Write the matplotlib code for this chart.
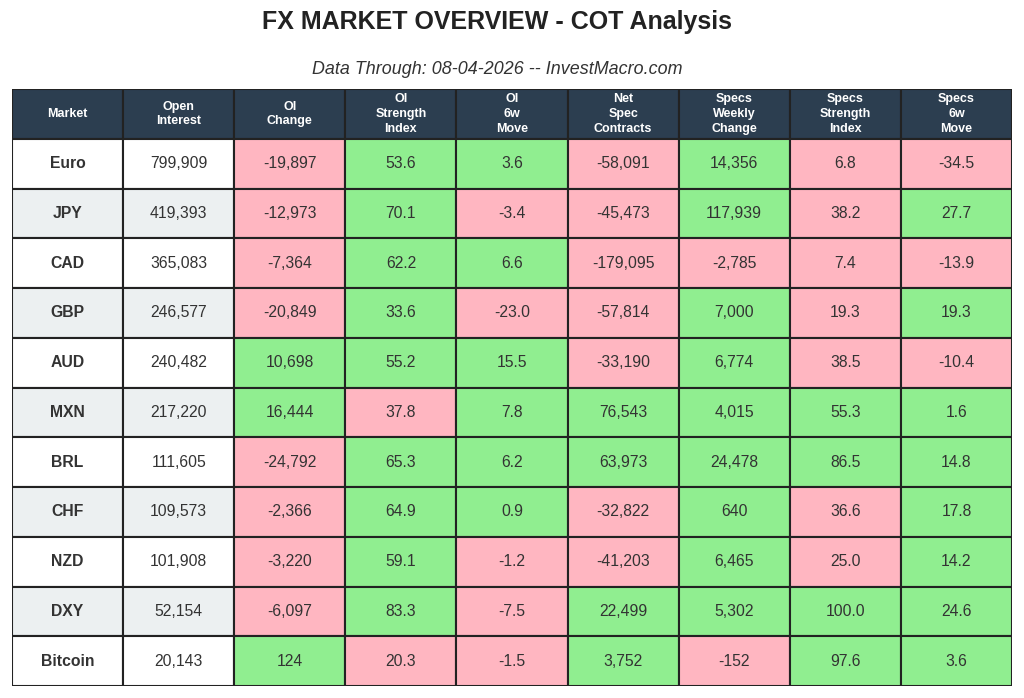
import matplotlib
matplotlib.use("Agg")
import matplotlib.pyplot as plt
from matplotlib.patches import Rectangle

plt.rcParams['font.family'] = ['Liberation Sans', 'DejaVu Sans']

title = "FX MARKET OVERVIEW - COT Analysis"
subtitle = "Data Through: 08-04-2026 -- InvestMacro.com"

headers = ["Market", "Open\nInterest", "OI\nChange", "OI\nStrength\nIndex", "OI\n6w\nMove",
           "Net\nSpec\nContracts", "Specs\nWeekly\nChange", "Specs\nStrength\nIndex", "Specs\n6w\nMove"]

markets = ["Euro", "JPY", "CAD", "GBP", "AUD", "MXN", "BRL", "CHF", "NZD", "DXY", "Bitcoin"]
open_interest = [799909, 419393, 365083, 246577, 240482, 217220, 111605, 109573, 101908, 52154, 20143]
oi_change = [-19897, -12973, -7364, -20849, 10698, 16444, -24792, -2366, -3220, -6097, 124]
oi_strength = [53.6, 70.1, 62.2, 33.6, 55.2, 37.8, 65.3, 64.9, 59.1, 83.3, 20.3]
oi_6w = [3.6, -3.4, 6.6, -23.0, 15.5, 7.8, 6.2, 0.9, -1.2, -7.5, -1.5]
net_spec = [-58091, -45473, -179095, -57814, -33190, 76543, 63973, -32822, -41203, 22499, 3752]
spec_weekly = [14356, 117939, -2785, 7000, 6774, 4015, 24478, 640, 6465, 5302, -152]
spec_strength = [6.8, 38.2, 7.4, 19.3, 38.5, 55.3, 86.5, 36.6, 25.0, 100.0, 97.6]
spec_6w = [-34.5, 27.7, -13.9, 19.3, -10.4, 1.6, 14.8, 17.8, 14.2, 24.6, 3.6]

# cell status for the strength columns as shown (g = green, p = pink)
oi_strength_status = ["g", "g", "g", "g", "g", "p", "g", "g", "g", "g", "p"]
spec_strength_status = ["p", "p", "p", "p", "p", "g", "g", "p", "p", "g", "g"]

GREEN = "#90ee90"
PINK = "#ffb6c1"
HEADER = "#2c3e50"
ALT = "#ecf0f1"
WHITE = "#ffffff"
TEXT = "#333333"
EDGE = "#222222"

def sign_status(vals):
    return ["g" if v >= 0 else "p" for v in vals]

columns = [
    ([f"{v}" for v in markets], None),
    ([f"{v:,}" for v in open_interest], None),
    ([f"{v:,}" for v in oi_change], sign_status(oi_change)),
    ([f"{v:.1f}" for v in oi_strength], oi_strength_status),
    ([f"{v:.1f}" for v in oi_6w], sign_status(oi_6w)),
    ([f"{v:,}" for v in net_spec], sign_status(net_spec)),
    ([f"{v:,}" for v in spec_weekly], sign_status(spec_weekly)),
    ([f"{v:.1f}" for v in spec_strength], spec_strength_status),
    ([f"{v:.1f}" for v in spec_6w], sign_status(spec_6w)),
]

W, H = 1024, 698
fig = plt.figure(figsize=(W / 100, H / 100), dpi=100)
fig.patch.set_facecolor("white")

left, right, top, bottom = 12, 1012, 89, 686
ax = fig.add_axes([left / W, 1 - bottom / H, (right - left) / W, (bottom - top) / H])
ncol = len(headers)
nrow = len(markets) + 1
ax.set_xlim(0, ncol)
ax.set_ylim(nrow, 0)
ax.axis("off")

lw = 1.5
# header
for j, h in enumerate(headers):
    ax.add_patch(Rectangle((j, 0), 1, 1, facecolor=HEADER, edgecolor=EDGE, lw=lw))
    ax.text(j + 0.5, 0.5, h, ha="center", va="center", color="white", fontsize=9,
            fontweight="bold", linespacing=1.3)

for i in range(len(markets)):
    base = WHITE if i % 2 == 0 else ALT
    for j, (texts, status) in enumerate(columns):
        fc = base
        if status is not None:
            fc = GREEN if status[i] == "g" else PINK
        ax.add_patch(Rectangle((j, i + 1), 1, 1, facecolor=fc, edgecolor=EDGE, lw=lw))
        ax.text(j + 0.5, i + 1.5, texts[i], ha="center", va="center", color=TEXT,
                fontsize=11.3, fontweight="bold" if j == 0 else "normal")

fig.text(497 / W, 1 - 22 / H, title, ha="center", va="center", fontsize=18, fontweight="bold",
         color="#222222")
fig.text(497 / W, 1 - 69 / H, subtitle, ha="center", va="center", fontsize=12.9, style="italic",
         color="#333333")

fig.savefig("out.png", dpi=100, facecolor="white")
